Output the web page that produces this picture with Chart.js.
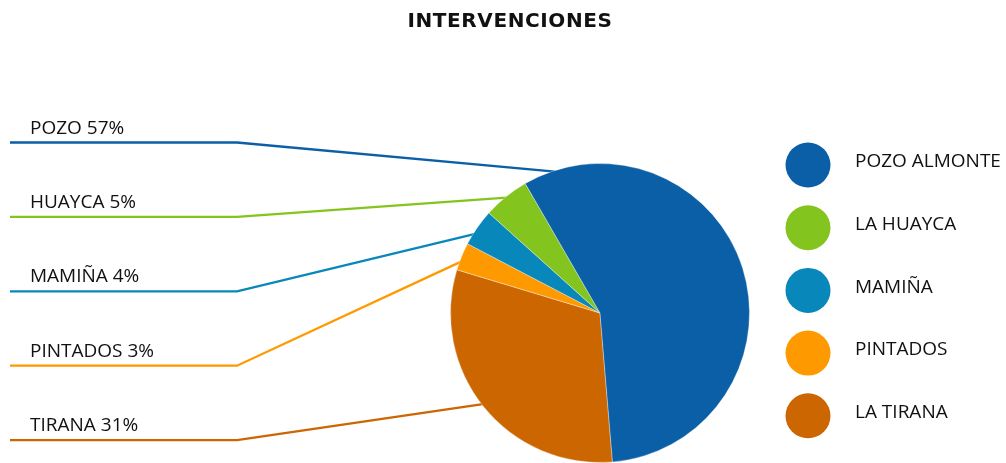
<!DOCTYPE html>
<html>
<head>
<meta charset="utf-8">
<script src="https://cdn.jsdelivr.net/npm/chart.js@4.4.1/dist/chart.umd.min.js"></script>
<style>
  html, body { margin:0; padding:0; background:#fff; }
</style>
</head>
<body>
<canvas id="myChart" width="1006" height="463"></canvas>
<script>
// data (legend order)
var chartTitle = "INTERVENCIONES";
var categories = ["POZO ALMONTE", "LA HUAYCA", "MAMIÑA", "PINTADOS", "LA TIRANA"];
var shortNames = ["POZO", "HUAYCA", "MAMIÑA", "PINTADOS", "TIRANA"];
var values = [57, 5, 4, 3, 31];

// styling
var colors = ["#0a5fa7", "#83c41f", "#0787ba", "#fe9a00", "#cc6600"];
var leaderAnchor = [0.06, 0.5, 0.31, 0.31, 0.51]; // where each leader line meets its slice
var FONT = "'Open Sans', 'Noto Sans', sans-serif";

var n = categories.length;
var total = values.reduce(function(a, b){ return a + b; }, 0);

// slices run clockwise in reverse legend order
var pieLabels = categories.slice().reverse();
var pieValues = values.slice().reverse();
var pieColors = colors.slice().reverse();

function arcFor(chart, i){
  return chart.getDatasetMeta(0).data[n - 1 - i];
}

// title
var titlePlugin = {
  id: 'titleText',
  afterDraw: function(chart){
    var ctx = chart.ctx;
    ctx.save();
    ctx.font = "bold 20px 'DejaVu Sans', sans-serif";
    if ('letterSpacing' in ctx) ctx.letterSpacing = "0.6px";
    ctx.fillStyle = "#111";
    ctx.textAlign = "center";
    ctx.textBaseline = "alphabetic";
    ctx.fillText(chartTitle, 510, 27);
    ctx.restore();
  }
};

// leader lines + labels on the left, drawn under the pie
var leaderPlugin = {
  id: 'leaders',
  beforeDatasetsDraw: function(chart){
    var ctx = chart.ctx;
    ctx.save();
    for (var i = 0; i < n; i++) {
      var arc = arcFor(chart, i);
      var a = arc.startAngle + leaderAnchor[i] * (arc.endAngle - arc.startAngle);
      var r = arc.outerRadius - 1;
      var px = arc.x + Math.cos(a) * r;
      var py = arc.y + Math.sin(a) * r;
      var ly = 142.5 + i * 74.4;
      ctx.strokeStyle = colors[i];
      ctx.lineWidth = 2.3;
      ctx.beginPath();
      ctx.moveTo(10, ly);
      ctx.lineTo(237, ly);
      ctx.lineTo(px, py);
      ctx.stroke();

      var pct = Math.round(values[i] / total * 100);
      ctx.font = "19px " + FONT;
      ctx.fillStyle = "#111";
      ctx.textAlign = "left";
      ctx.textBaseline = "alphabetic";
      ctx.fillText(shortNames[i] + " " + pct + "%", 30, ly - 9);
    }
    ctx.restore();
  }
};

// big round legend on the right
var legendPlugin = {
  id: 'roundLegend',
  afterDraw: function(chart){
    var ctx = chart.ctx;
    ctx.save();
    for (var i = 0; i < n; i++) {
      var cy = 165 + i * 62.7;
      ctx.fillStyle = colors[i];
      ctx.beginPath();
      ctx.arc(808, cy, 22.5, 0, Math.PI * 2);
      ctx.fill();
      ctx.font = "19px " + FONT;
      ctx.fillStyle = "#111";
      ctx.textAlign = "left";
      ctx.textBaseline = "alphabetic";
      ctx.fillText(categories[i], 855, cy + 2.3);
    }
    ctx.restore();
  }
};

var ctx = document.getElementById('myChart').getContext('2d');
var myPie = new Chart(ctx, {
  type: 'pie',
  data: {
    labels: pieLabels,
    datasets: [{
      data: pieValues,
      backgroundColor: pieColors,
      borderColor: 'rgba(255,255,255,0.35)',
      borderWidth: 1
    }]
  },
  options: {
    responsive: false,
    animation: false,
    devicePixelRatio: 1,
    rotation: 175.2,
    layout: { padding: { left: 450, right: 256, top: 163, bottom: 0 } },
    plugins: {
      legend: { display: false },
      title: { display: false },
      tooltip: { enabled: false }
    }
  },
  plugins: [leaderPlugin, legendPlugin, titlePlugin]
});
</script>
</body>
</html>
